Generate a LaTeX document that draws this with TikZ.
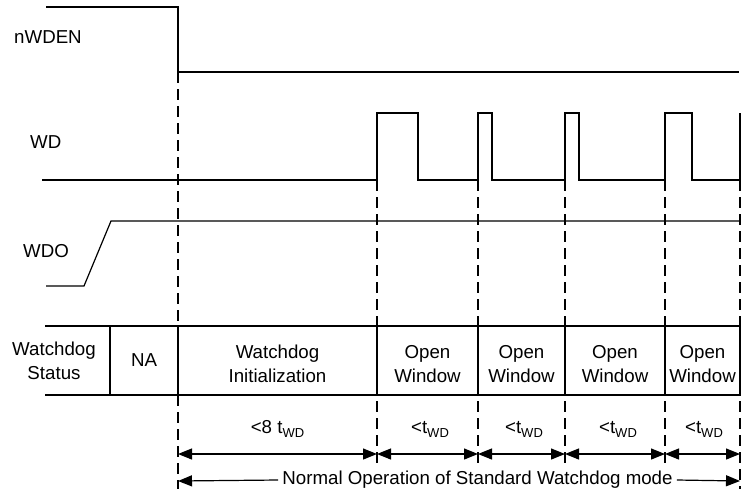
\documentclass[tikz,border=0pt]{standalone}
\usepackage{fontspec}
\setmainfont{Liberation Sans}
\usepackage{tikz}
\usetikzlibrary{arrows.meta}
\usetikzlibrary{positioning}
\tikzstyle{every node}+=[inner sep=0pt]
\tikzstyle{wave} = [draw, line width=1.2pt]
\tikzstyle{signal} = [font=\fontsize{18.7}{22}\selectfont, anchor=base west]
\tikzstyle{cell} = [font=\fontsize{18.7}{24.5}\selectfont, align=center]
\tikzstyle{timing} = [font=\fontsize{18.7}{22}\selectfont, anchor=base]
\tikzstyle{guide} = [draw, line width=1.2pt, dash pattern=on 11pt off 6pt]
\tikzstyle{line} = [draw, line width=1.2pt]
\newcommand{\twd}{t\raisebox{-4pt}{\fontsize{13}{13}\selectfont WD}}

\begin{document}
\begin{tikzpicture}[x=1pt, y=-1pt, >={Triangle[length=14pt,width=11pt]}]
            \useasboundingbox (0,0) rectangle (741,490);
            % Place nodes
            \node [signal] (nwden) at (14,43) {nWDEN};
            \node [signal] (wd) at (30,148) {WD};
            \node [signal] (wdo) at (23,257) {WDO};
            \node [cell] (status) at (54,361) {Watchdog\\Status};
            \node [cell] (na) at (144,360) {NA};
            \node [cell] (init) at (277.5,364) {Watchdog\\Initialization};
            \node [cell] (open1) at (427.5,364) {Open\\Window};
            \node [cell] (open2) at (521.5,364) {Open\\Window};
            \node [cell] (open3) at (615,364) {Open\\Window};
            \node [cell] (open4) at (702.5,364) {Open\\Window};
            \node [timing] (d0) at (277.5,433) {<8 \twd};
            \node [timing] (d1) at (430,433) {<\twd};
            \node [timing] (d2) at (524,433) {<\twd};
            \node [timing] (d3) at (618,433) {<\twd};
            \node [timing] (d4) at (704,433) {<\twd};
            \node [font=\fontsize{18.7}{22}\selectfont, inner xsep=4pt] (norm) at (477.5,480) {Normal Operation of Standard Watchdog mode};
            % Arrow ends
            \coordinate (a0) at (178,454);
            \coordinate (a1) at (377,454);
            \coordinate (a2) at (478,454);
            \coordinate (a3) at (565,454);
            \coordinate (a4) at (665,454);
            \coordinate (a5) at (740,454);
            \coordinate (b0) at (178,481);
            \coordinate (b5) at (740,481);
            % Draw waveforms
            \path [wave] (46,7) -- (178,7) -- (178,72) -- (739,72);
            \path [wave] (42,180) -- (377,180) -- (377,113) -- (418,113) -- (418,180)
              -- (478,180) -- (478,113) -- (492,113) -- (492,180)
              -- (565,180) -- (565,113) -- (579,113) -- (579,180)
              -- (665,180) -- (665,113) -- (692,113) -- (692,180)
              -- (740,180) -- (740,113);
            \path [wave] (46,286) -- (84,286) -- (111,221) -- (740,221);
            % Draw table
            \path [wave] (45,326) -- (741,326);
            \path [wave] (45,395) -- (741,395);
            \path [wave] (110,326) -- (110,395);
            \path [wave] (178,326) -- (178,395);
            \path [wave] (377,326) -- (377,395);
            \path [wave] (478,326) -- (478,395);
            \path [wave] (565,326) -- (565,395);
            \path [wave] (665,326) -- (665,395);
            \path [wave] (740,326) -- (740,395);
            % Draw guides
            \path [guide] (178,72) -- (178,489);
            \path [guide] (377,180) -- (377,463);
            \path [guide] (478,180) -- (478,463);
            \path [guide] (565,180) -- (565,463);
            \path [guide] (665,180) -- (665,463);
            \path [guide] (740,180) -- (740,489);
            % Draw edges
            \path [line, <->] (a0) -- (a1);
            \path [line, <->] (a1) -- (a2);
            \path [line, <->] (a2) -- (a3);
            \path [line, <->] (a3) -- (a4);
            \path [line, <->] (a4) -- (a5);
            \path [line, <-] (b0) -- (norm.west);
            \path [line, ->] (norm.east) -- (b5);
          \end{tikzpicture}
\end{document}
